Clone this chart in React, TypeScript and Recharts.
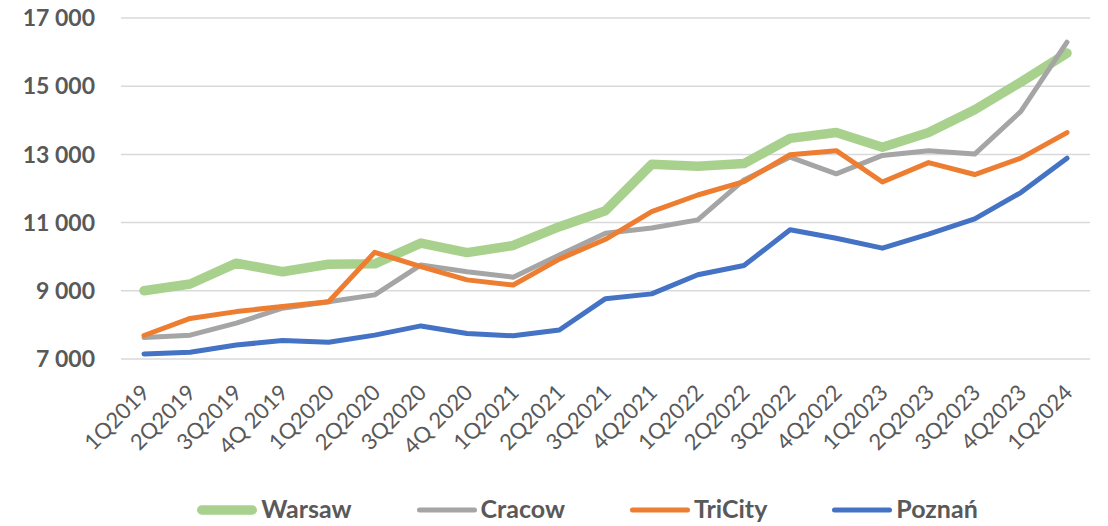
import React from "react";
import { LineChart, Line, XAxis, YAxis, CartesianGrid, Legend } from "recharts";

// Average asking price per m² by quarter, four Polish markets
const quarters = [
  "1Q2019", "2Q2019", "3Q2019", "4Q 2019", "1Q2020", "2Q2020", "3Q2020", "4Q 2020",
  "1Q2021", "2Q2021", "3Q2021", "4Q2021", "1Q2022", "2Q2022", "3Q2022", "4Q2022",
  "1Q2023", "2Q2023", "3Q2023", "4Q2023", "1Q2024",
];

const warsaw = [
  9000, 9200, 9810, 9560, 9780, 9790, 10400, 10120, 10330, 10880, 11350,
  12710, 12650, 12730, 13470, 13640, 13210, 13640, 14310, 15120, 15970,
];
const cracow = [
  7630, 7700, 8050, 8490, 8680, 8880, 9760, 9560, 9400, 10050, 10690,
  10840, 11080, 12250, 12920, 12430, 12970, 13110, 13010, 14260, 16290,
];
const tricity = [
  7690, 8190, 8390, 8540, 8680, 10130, 9710, 9320, 9170, 9930, 10510,
  11320, 11810, 12200, 12990, 13110, 12190, 12760, 12410, 12890, 13640,
];
const poznan = [
  7150, 7200, 7410, 7540, 7490, 7700, 7970, 7750, 7680, 7850, 8770,
  8910, 9470, 9740, 10790, 10540, 10250, 10660, 11110, 11880, 12890,
];

const yTicks = [7000, 9000, 11000, 13000, 15000, 17000];

const series = [
  { key: "warsaw", name: "Warsaw", values: warsaw, color: "#A9D18E", width: 9.5 },
  { key: "cracow", name: "Cracow", values: cracow, color: "#A5A5A5", width: 5 },
  { key: "tricity", name: "TriCity", values: tricity, color: "#ED7D31", width: 5 },
  { key: "poznan", name: "Poznań", values: poznan, color: "#4472C4", width: 5 },
];

const rows = quarters.map((q, i) => {
  const row: Record<string, string | number> = { quarter: q };
  series.forEach((s) => {
    row[s.key] = s.values[i];
  });
  return row;
});

const TEXT = "#595959";
const FONT = "Lato, 'Open Sans', sans-serif";

const formatThousands = (v: number) =>
  String(v).replace(/\B(?=(\d{3})+(?!\d))/g, " ");

const QuarterTick = (props: any) => {
  const { x, y, payload } = props;
  const ax = x + 7;
  const ay = y + 35;
  return (
    <text
      x={ax}
      y={ay}
      transform={`rotate(-45, ${ax}, ${ay})`}
      textAnchor="end"
      fill={TEXT}
      fontSize={22}
      fontFamily={FONT}
    >
      {payload.value}
    </text>
  );
};

const LegendRow = () => (
  <div
    style={{
      display: "flex",
      justifyContent: "center",
      alignItems: "flex-start",
      height: 40,
      paddingLeft: 67,
      boxSizing: "border-box",
      width: 1108,
    }}
  >
    {series.map((s, i) => (
      <div
        key={s.key}
        style={{
          display: "flex",
          alignItems: "flex-start",
          marginLeft: i === 0 ? 0 : 65,
        }}
      >
        <svg width={60} height={40} style={{ display: "block" }}>
          <line
            x1={s.width / 2}
            x2={60 - s.width / 2}
            y1={24}
            y2={24}
            stroke={s.color}
            strokeWidth={s.width}
            strokeLinecap="round"
          />
        </svg>
        <span
          style={{
            marginLeft: 4,
            marginTop: 10,
            fontFamily: FONT,
            fontWeight: 700,
            fontSize: 25,
            lineHeight: "25px",
            color: TEXT,
            whiteSpace: "nowrap",
          }}
        >
          {s.name}
        </span>
      </div>
    ))}
  </div>
);

export default function App() {
  return (
    <div style={{ position: "absolute", left: 0, top: 0, width: 1108, height: 526, background: "#fff" }}>
      <LineChart
        width={1108}
        height={526}
        data={rows}
        margin={{ top: 18, right: 18, bottom: 0, left: 0 }}
      >
        <CartesianGrid vertical={false} stroke="#D9D9D9" strokeWidth={1.5} />
        <XAxis
          dataKey="quarter"
          interval={0}
          axisLine={false}
          tickLine={false}
          tickSize={0}
          tickMargin={0}
          height={127}
          padding={{ left: 23, right: 23 }}
          tick={<QuarterTick />}
        />
        <YAxis
          width={121}
          domain={[7000, 17000]}
          ticks={yTicks}
          axisLine={false}
          tickLine={false}
          tickSize={0}
          tickMargin={26}
          tickFormatter={formatThousands}
          tick={{ fill: TEXT, fontSize: 23, fontWeight: 700, fontFamily: FONT }}
        />
        <Legend
          verticalAlign="bottom"
          content={() => <LegendRow />}
          wrapperStyle={{ left: 0, bottom: 0, width: 1108, height: 40 }}
        />
        {series.map((s) => (
          <Line
            key={s.key}
            dataKey={s.key}
            name={s.name}
            stroke={s.color}
            strokeWidth={s.width}
            strokeLinecap="round"
            strokeLinejoin="round"
            dot={false}
            activeDot={false}
            isAnimationActive={false}
          />
        ))}
      </LineChart>
    </div>
  );
}
